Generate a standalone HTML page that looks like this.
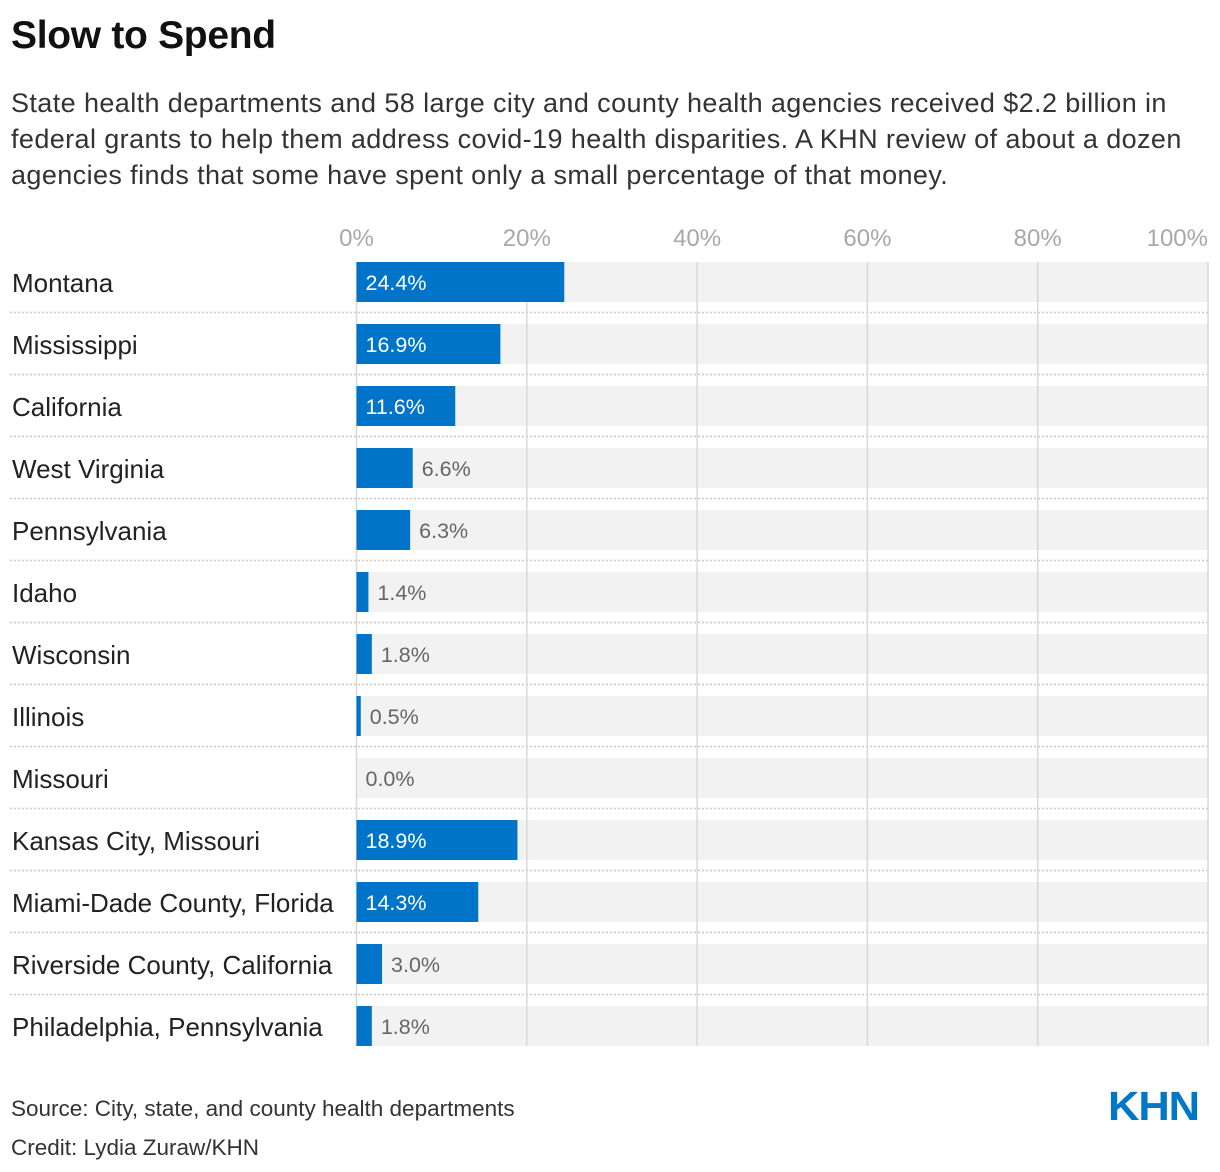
<!DOCTYPE html>
<html><head><meta charset="utf-8">
<style>
body{margin:0;background:#fff;font-family:"Liberation Sans",sans-serif;}
#wrap{position:relative;width:1220px;height:1172px;overflow:hidden;}
h1{position:absolute;left:11px;top:14px;margin:0;font-size:39px;font-weight:bold;color:#111;letter-spacing:-0.3px;}
#sub{position:absolute;left:11px;top:85px;width:1210px;margin:0;font-size:27px;line-height:36px;color:#333;letter-spacing:0.4px;white-space:nowrap;}
.foot{position:absolute;left:11px;font-size:22.5px;color:#333;}
#logo{position:absolute;left:1108px;top:1083px;font-size:41px;font-weight:900;color:#0077c8;letter-spacing:-1px;transform:scaleX(1.06);transform-origin:left;}
</style></head>
<body><div id="wrap">
<h1>Slow to Spend</h1>
<p id="sub">State health departments and 58 large city and county health agencies received $2.2 billion in<br>federal grants to help them address covid-19 health disparities. A KHN review of about a dozen<br>agencies finds that some have spent only a small percentage of that money.</p>
<svg id="chart" width="1220" height="1172" style="position:absolute;left:0;top:0"></svg>
<div class="foot" style="top:1096px">Source: City, state, and county health departments</div>
<div class="foot" style="top:1135px">Credit: Lydia Zuraw/KHN</div>
<div id="logo">KHN</div>
</div>
<script>
const categories=["Montana","Mississippi","California","West Virginia","Pennsylvania","Idaho","Wisconsin","Illinois","Missouri","Kansas City, Missouri","Miami-Dade County, Florida","Riverside County, California","Philadelphia, Pennsylvania"];
const values=[24.4,16.9,11.6,6.6,6.3,1.4,1.8,0.5,0.0,18.9,14.3,3.0,1.8];
const ticks=[0,20,40,60,80,100];
const svg=document.getElementById('chart');
const NS='http://www.w3.org/2000/svg';
const x0=356.5,x1=1208;
const x=v=>x0+(x1-x0)*v/100;
const rowTop=i=>262+62*i;
function mk(t,a,txt){const e=document.createElementNS(NS,t);for(const k in a)e.setAttribute(k,a[k]);if(txt!==undefined)e.textContent=txt;svg.appendChild(e);return e;}
categories.forEach((c,i)=>{
 const r=mk('rect',{x:x0,y:rowTop(i),width:x1-x0,height:40,fill:'#f2f2f2'});
 
 
 if(i<categories.length-1){
  const l=mk('line',{x1:10,x2:1208,y1:rowTop(i)+50.5,y2:rowTop(i)+50.5,stroke:'#c8c8c8','stroke-width':1.5,'stroke-dasharray':'2,2'});
  
  
 }
});
ticks.forEach(t=>{
 const g=mk('line',{x1:x(t),x2:x(t),y1:262,y2:1046,stroke:'#d8d8d8','stroke-width':1.5});
 
 
 const lb=mk('text',{x:t===100?1208:x(t),y:246,'text-anchor':t===100?'end':'middle','font-size':24,fill:'#a8a8a8','font-family':'Liberation Sans, sans-serif'},t+'%');
 
 
});
categories.forEach((c,i)=>{
 const v=values[i],y=rowTop(i);
 const lab=mk('text',{x:12,y:y+30,'font-size':26,fill:'#222','font-family':'Liberation Sans, sans-serif'},c);
 
 
 const w=x(v)-x0;
 const b=mk('rect',{x:x0,y:y,width:Math.max(w,v>0?2:0),height:40,fill:'#0074c8'});
 
 
 const inside=w>80;
 const vt=mk('text',{x:inside?x0+9:x0+Math.max(w,0)+9,y:y+28,'font-size':21.5,fill:inside?'#fff':'#666','font-family':'Liberation Sans, sans-serif'},v.toFixed(1)+'%');
 
 
});
</script>
</body></html>
